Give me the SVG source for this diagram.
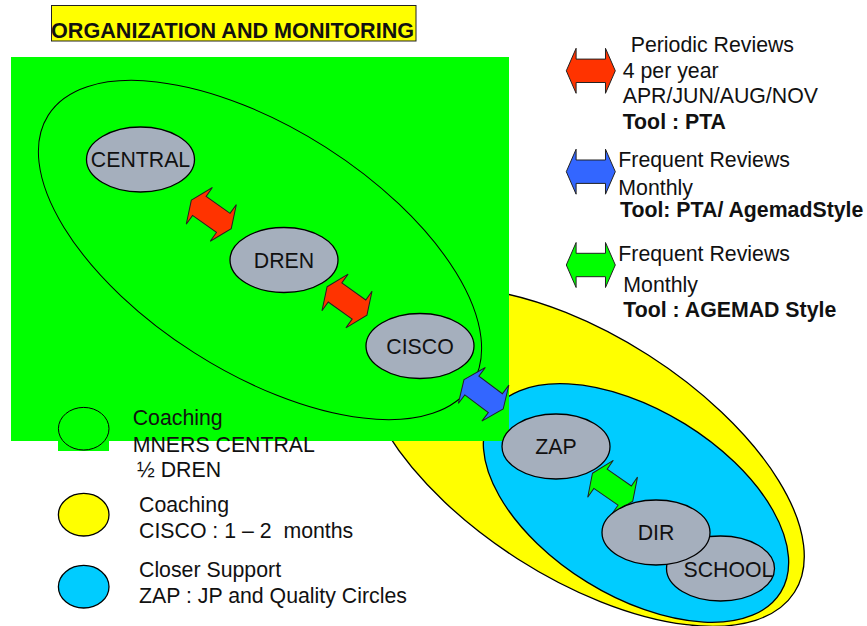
<svg xmlns="http://www.w3.org/2000/svg" xmlns:xlink="http://www.w3.org/1999/xlink" width="867" height="626" viewBox="0 0 867 626">
  <style>
    text { font-family: "Liberation Sans", Arial, sans-serif; font-size: 21.3px; fill: #111; }
    .b { font-weight: bold; }
    .title { font-size: 21.6px; }
    .pre { white-space: pre; }
    .node ellipse { fill: #A5AFBD; stroke: #000; stroke-width: 1.3; }
    .node text { text-anchor: middle; }
    .arrow { stroke: #222; stroke-width: 1; }
    .zone { stroke: #000; stroke-width: 1.3; }
  </style>
  <defs>
    <!-- double-headed block arrow, centred on the origin, pointing along x -->
    <polygon id="lr-arrow" points="-24.5,0 -14.7,-22.5 -14.7,-11.7 14.7,-11.7 14.7,-22.5 24.5,0 14.7,22.5 14.7,11.7 -14.7,11.7 -14.7,22.5"/>
  </defs>

  <!-- coaching zones -->
  <g id="zone-cisco">
    <ellipse class="zone" cx="583" cy="457" rx="251" ry="121" transform="rotate(32.6 583 457)" fill="#FFFF00"/>
  </g>
  <g id="zone-zap">
    <ellipse class="zone" cx="636" cy="503" rx="170" ry="93" transform="rotate(31.7 636 503)" fill="#00CCFF"/>
  </g>
  <g id="zone-central">
    <rect x="11" y="57" width="498" height="384" fill="#00FF00"/>
    <ellipse cx="260" cy="250" rx="251" ry="122" transform="rotate(32.5 260 250)" fill="none" stroke="#000" stroke-width="1"/>
  </g>

  <!-- review connectors -->
  <g id="connectors">
    <use xlink:href="#lr-arrow" class="arrow" fill="#FF3300" transform="translate(211.3 214.4) rotate(35.5)"/>
    <use xlink:href="#lr-arrow" class="arrow" fill="#FF3300" transform="translate(347 301) rotate(35.5)"/>
    <use xlink:href="#lr-arrow" class="arrow" fill="#3366FF" transform="translate(483.6 394.3) rotate(36.9)"/>
    <use xlink:href="#lr-arrow" class="arrow" fill="#00FF00" transform="translate(612.6 487.2) rotate(34.7)"/>
  </g>

  <!-- levels -->
  <g id="node-central" class="node">
    <ellipse cx="140.5" cy="159.5" rx="54" ry="32.5"/>
    <text x="140.5" y="167">CENTRAL</text>
  </g>
  <g id="node-dren" class="node">
    <ellipse cx="284" cy="260" rx="54" ry="32.5"/>
    <text x="284" y="267.5">DREN</text>
  </g>
  <g id="node-cisco" class="node">
    <ellipse cx="420" cy="346" rx="54" ry="32.5"/>
    <text x="420" y="353.5">CISCO</text>
  </g>
  <g id="node-zap" class="node">
    <ellipse cx="556" cy="446.5" rx="54" ry="32.5"/>
    <text x="556" y="454">ZAP</text>
  </g>
  <g id="node-school" class="node">
    <ellipse cx="720.5" cy="568.5" rx="54" ry="32.5"/>
    <text x="728.5" y="577">SCHOOL</text>
  </g>
  <g id="node-dir" class="node">
    <ellipse cx="656" cy="532.5" rx="54" ry="32.5"/>
    <text x="656" y="540">DIR</text>
  </g>

  <!-- zone legend -->
  <g id="legend-zones">
    <rect x="58" y="430" width="51" height="21" fill="#00FF00"/>
    <ellipse cx="83.7" cy="428.7" rx="25.3" ry="21.3" fill="none" stroke="#000" stroke-width="1"/>
    <text x="132.7" y="425">Coaching</text>
    <text x="132.7" y="451.7">MNERS CENTRAL</text>
    <text x="137" y="476.7">½ DREN</text>

    <ellipse cx="83.7" cy="514.7" rx="25.3" ry="21.3" fill="#FFFF00" stroke="#000" stroke-width="1.3"/>
    <text x="139" y="511.7">Coaching</text>
    <text class="pre" x="139" y="537.7">CISCO : 1 – 2  months</text>

    <ellipse cx="83.7" cy="586.7" rx="25.3" ry="21.3" fill="#00CCFF" stroke="#000" stroke-width="1.3"/>
    <text x="139" y="576.7">Closer Support</text>
    <text x="139" y="602.7">ZAP : JP and Quality Circles</text>
  </g>

  <!-- review legend -->
  <g id="legend-reviews">
    <use xlink:href="#lr-arrow" class="arrow" fill="#FF3300" transform="translate(590.8 70.8)"/>
    <text x="630.7" y="51.7">Periodic Reviews</text>
    <text x="622.7" y="78.3">4 per year</text>
    <text x="622.7" y="103.3">APR/JUN/AUG/NOV</text>
    <text class="b" x="622.7" y="129.3">Tool : PTA</text>

    <use xlink:href="#lr-arrow" class="arrow" fill="#3366FF" transform="translate(590.8 171.7)"/>
    <text x="618.3" y="167.3">Frequent Reviews</text>
    <text x="618.3" y="195">Monthly</text>
    <text class="b" x="620" y="216.7">Tool: PTA/ AgemadStyle</text>

    <use xlink:href="#lr-arrow" class="arrow" fill="#00FF00" transform="translate(590.8 265)"/>
    <text x="618.3" y="260.7">Frequent Reviews</text>
    <text x="623.3" y="291.7">Monthly</text>
    <text class="b" x="623.3" y="317.3">Tool : AGEMAD Style</text>
  </g>

  <!-- title -->
  <g id="title">
    <rect x="51.5" y="5.5" width="364.5" height="35.5" fill="#FFFF00" stroke="#222" stroke-width="1"/>
    <text class="b title" x="51" y="37.5">ORGANIZATION AND MONITORING</text>
  </g>
</svg>
